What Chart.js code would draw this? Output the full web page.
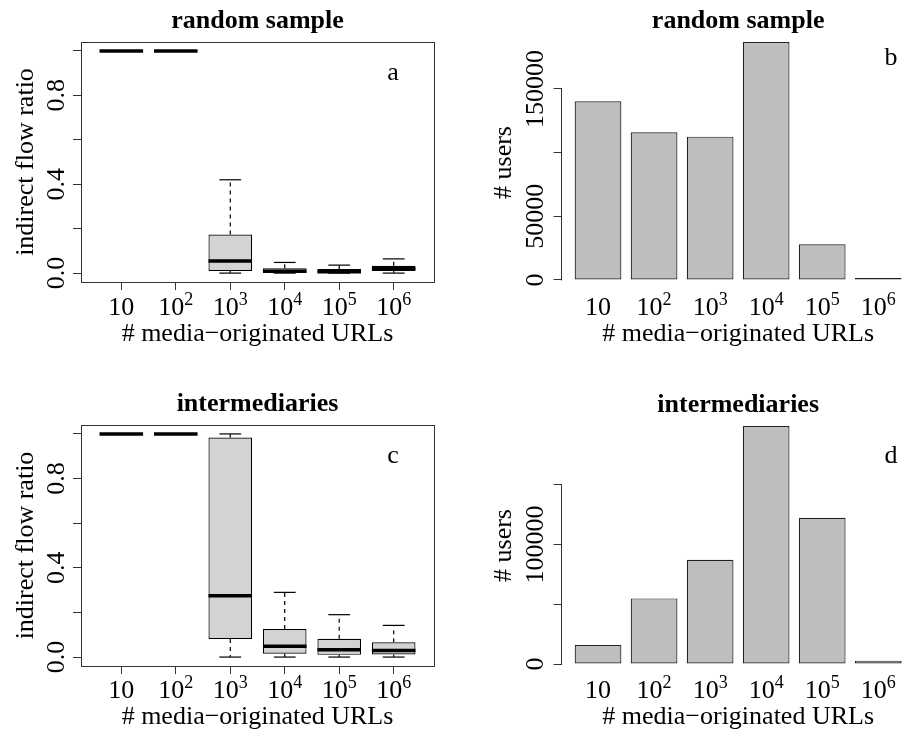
<!DOCTYPE html>
<html>
<head>
<meta charset="utf-8">
<title>Indirect flow ratio and users by media-originated URLs</title>
<script src="https://cdn.jsdelivr.net/npm/chart.js@4.4.1/dist/chart.umd.min.js"></script>
<style>
  html, body { margin: 0; padding: 0; background: #fff; }
  body { position: relative; width: 902px; height: 734px; overflow: hidden; }
  canvas { position: absolute; }
</style>
</head>
<body>
<canvas id="panelA" width="451" height="367" style="left:0;top:0"></canvas>
<canvas id="panelB" width="480" height="367" style="left:451px;top:0"></canvas>
<canvas id="panelC" width="451" height="367" style="left:0;top:367px"></canvas>
<canvas id="panelD" width="480" height="367" style="left:451px;top:367px"></canvas>
<script>
// size classes 10, 10^2 ... 10^6 (exponent shown after the "10")
const sizeExponents = ["", "2", "3", "4", "5", "6"];

// indirect flow ratio, random sample: whisker ends, quartiles, median
const randomLow = [1, 1, 0, 0, 0, 0];
const randomQ1 = [1, 1, 0.010, 0.0, 0.0, 0.009];
const randomMedian = [1, 1, 0.054, 0.008, 0.006, 0.020];
const randomQ3 = [1, 1, 0.174, 0.022, 0.018, 0.033];
const randomHigh = [1, 1, 0.42, 0.048, 0.036, 0.064];

// indirect flow ratio, intermediaries
const interLow = [1, 1, 0, 0, 0, 0];
const interQ1 = [1, 1, 0.081, 0.015, 0.010, 0.012];
const interMedian = [1, 1, 0.275, 0.048, 0.033, 0.030];
const interQ3 = [1, 1, 0.984, 0.126, 0.082, 0.066];
const interHigh = [1, 1, 1.0, 0.29, 0.19, 0.142];

// number of users per size class
const randomUsers = [140300, 115900, 112500, 186800, 28000, 1600];
const interUsers = [15900, 54900, 87200, 199000, 122300, 2800];

// axis ticks; empty strings are ticks drawn without a label
const ratioTicks = [0, 0.2, 0.4, 0.6, 0.8, 1.0];
const ratioLabels = ["0.0", "", "0.4", "", "0.8", ""];
const userTicks = [0, 50000, 100000, 150000];
const randomUserLabels = ["0", "50000", "", "150000"];
const interUserLabels = ["0", "", "100000", ""];

// slot positions along x: boxplot groups at 1..6, bars at 0.7 + 1.2 * i
const boxSlots = [1, 2, 3, 4, 5, 6];
const barSlots = [0.7, 1.9, 3.1, 4.3, 5.5, 6.7];

const FONT = '"Liberation Serif", "Times New Roman", serif';
const INK = '#000';
const LINE = '#333';

const seg = (ctx, x1, y1, x2, y2) => {
  ctx.beginPath();
  ctx.moveTo(x1, y1);
  ctx.lineTo(x2, y2);
  ctx.stroke();
};

// whiskers, caps and median bar on top of the floating-bar boxes
const boxParts = {
  id: 'boxParts',
  afterDatasetsDraw(chart, args, o) {
    if (!o.stats) return;
    const { ctx } = chart;
    const ys = chart.scales.y;
    const s = o.stats;
    ctx.save();
    ctx.strokeStyle = INK;
    chart.getDatasetMeta(0).data.forEach((bar, i) => {
      const x = bar.x, half = bar.width / 2, cap = bar.width / 4;
      const yLo = ys.getPixelForValue(s.low[i]);
      const yQ1 = ys.getPixelForValue(s.q1[i]);
      const yMed = ys.getPixelForValue(s.median[i]);
      const yQ3 = ys.getPixelForValue(s.q3[i]);
      const yHi = ys.getPixelForValue(s.high[i]);
      ctx.lineWidth = 1.2;
      ctx.setLineDash([4, 4]);
      if (yHi < yQ3) seg(ctx, x, yQ3, x, yHi);
      if (yLo > yQ1) seg(ctx, x, yQ1, x, yLo);
      ctx.setLineDash([]);
      seg(ctx, x - cap, yHi, x + cap, yHi);
      seg(ctx, x - cap, yLo, x + cap, yLo);
      ctx.lineWidth = 3.5;
      seg(ctx, x - half, yMed, x + half, yMed);
    });
    ctx.restore();
  }
};

// full frame for the boxplots, short axis line for the bar charts
const frame = {
  id: 'frame',
  afterDraw(chart, args, o) {
    const { ctx, chartArea: a } = chart;
    ctx.save();
    ctx.strokeStyle = LINE;
    ctx.lineWidth = 1;
    if (o.box) {
      const l = Math.round(a.left) + 0.5, t = Math.round(a.top) + 0.5;
      ctx.strokeRect(l, t, Math.round(a.right) - Math.round(a.left), Math.round(a.bottom) - Math.round(a.top));
    } else if (o.axisTicks) {
      const ys = chart.scales.y;
      const x = Math.round(a.left) - 0.5;
      seg(ctx, x, ys.getPixelForValue(o.axisTicks[0]) + 0.5, x,
        ys.getPixelForValue(o.axisTicks[o.axisTicks.length - 1]));
    }
    ctx.restore();
  }
};

// titles, panel letter, tick labels ("10" with raised exponent) and axis titles
const panelText = {
  id: 'panelText',
  afterDraw(chart, args, o) {
    const { ctx, chartArea: a } = chart;
    const xs = chart.scales.x, ys = chart.scales.y;
    const midX = (a.left + a.right) / 2;
    const mainFont = `${o.tickSize}px ${FONT}`;
    const supFont = `${Math.round(o.tickSize * 0.7)}px ${FONT}`;
    ctx.save();
    ctx.fillStyle = INK;
    ctx.textBaseline = 'alphabetic';

    ctx.textAlign = 'center';
    ctx.font = `bold ${o.titleSize}px ${FONT}`;
    ctx.fillText(o.title, midX, o.titleY);

    ctx.font = `${o.textSize}px ${FONT}`;
    ctx.fillText(o.letter, o.letterX, o.letterY);
    ctx.fillText(o.xTitle, midX, o.xTitleY);

    ctx.textAlign = 'left';
    o.xSlots.forEach((slot, i) => {
      const exp = sizeExponents[i];
      ctx.font = mainFont;
      const wBase = ctx.measureText('10').width;
      ctx.font = supFont;
      const wExp = exp ? ctx.measureText(exp).width : 0;
      const x0 = xs.getPixelForValue(slot) - (wBase + wExp) / 2;
      ctx.font = mainFont;
      ctx.fillText('10', x0, o.xTickY);
      if (exp) {
        ctx.font = supFont;
        ctx.fillText(exp, x0 + wBase, o.xTickY - o.tickSize * 0.4);
      }
    });

    ctx.textAlign = 'center';
    ctx.font = mainFont;
    o.yTicks.forEach((v, i) => {
      const lab = o.yLabels[i];
      if (!lab) return;
      ctx.save();
      ctx.translate(a.left - o.yTickGap, ys.getPixelForValue(v));
      ctx.rotate(-Math.PI / 2);
      ctx.fillText(lab, 0, 0);
      ctx.restore();
    });

    ctx.font = `${o.textSize}px ${FONT}`;
    ctx.save();
    ctx.translate(a.left - o.yTitleGap, o.yTitleMid != null ? o.yTitleMid : (a.top + a.bottom) / 2);
    ctx.rotate(-Math.PI / 2);
    ctx.fillText(o.yTitle, 0, 0);
    ctx.restore();
    ctx.restore();
  }
};

const tickGrid = { drawOnChartArea: false, drawTicks: true, tickLength: 8, color: LINE, lineWidth: 1, offset: false };

function baseOptions(pad, text, extra) {
  return {
    responsive: false,
    animation: false,
    events: [],
    devicePixelRatio: 1,
    layout: { padding: pad },
    plugins: Object.assign({
      legend: { display: false },
      tooltip: { enabled: false },
      panelText: text
    }, extra)
  };
}

function boxPanel(id, stats, pad, text) {
  const options = baseOptions(pad, Object.assign({
    xSlots: boxSlots, yTicks: ratioTicks, yLabels: ratioLabels,
    yTitle: 'indirect flow ratio', xTitle: '# media\u2212originated URLs',
    titleSize: 26, textSize: 26, tickSize: 26, yTickGap: 17.5, yTitleGap: 47.7
  }, text), { boxParts: { stats }, frame: { box: true } });
  options.scales = {
    x: {
      type: 'linear', min: 0.26, max: 6.74, offset: false,
      grid: tickGrid, border: { display: false }, ticks: { display: false },
      afterBuildTicks: sc => { sc.ticks = boxSlots.map(v => ({ value: v })); },
      afterFit: sc => { sc.height = 0; }
    },
    y: {
      min: -0.04, max: 1.04,
      grid: tickGrid, border: { display: false }, ticks: { display: false },
      afterBuildTicks: sc => { sc.ticks = ratioTicks.map(v => ({ value: v })); },
      afterFit: sc => { sc.width = 0; }
    }
  };
  return new Chart(document.getElementById(id), {
    type: 'bar',
    data: {
      datasets: [{
        data: boxSlots.map((x, i) => ({ x, y: [stats.q1[i], stats.q3[i]] })),
        backgroundColor: '#d3d3d3',
        borderColor: INK,
        borderWidth: 1.2,
        borderSkipped: false,
        categoryPercentage: 1,
        barPercentage: 0.8
      }]
    },
    options,
    plugins: [boxParts, frame, panelText]
  });
}

function barPanel(id, users, yMin, yMax, labels, pad, text) {
  const options = baseOptions(pad, Object.assign({
    xSlots: barSlots, yTicks: userTicks, yLabels: labels,
    yTitle: '# users', xTitle: '# media\u2212originated URLs',
    titleSize: 26, textSize: 26, tickSize: 26, yTickGap: 18.9, yTitleGap: 50.6
  }, text), { frame: { axisTicks: userTicks } });
  options.scales = {
    x: {
      type: 'linear', min: -0.08, max: 7.48, offset: false, display: false,
      grid: { offset: false }
    },
    y: {
      min: yMin, max: yMax,
      grid: tickGrid, border: { display: false }, ticks: { display: false },
      afterBuildTicks: sc => { sc.ticks = userTicks.map(v => ({ value: v })); },
      afterFit: sc => { sc.width = 0; }
    }
  };
  return new Chart(document.getElementById(id), {
    type: 'bar',
    data: {
      datasets: [{
        data: barSlots.map((x, i) => ({ x, y: users[i] })),
        backgroundColor: '#bebebe',
        borderColor: '#222',
        borderWidth: 1.2,
        borderSkipped: false,
        categoryPercentage: 1,
        barPercentage: 1 / 1.2
      }]
    },
    options,
    plugins: [frame, panelText]
  });
}

boxPanel('panelA',
  { low: randomLow, q1: randomQ1, median: randomMedian, q3: randomQ3, high: randomHigh },
  { left: 81, right: 17, top: 42, bottom: 85 },
  { title: 'random sample', letter: 'a', letterX: 393, letterY: 79.5, titleY: 27.5, xTickY: 315, xTitleY: 341 });

barPanel('panelB', randomUsers, -7500, 195000, randomUserLabels,
  { left: 110.6, right: 16.3, top: 31.57, bottom: 77.45 },
  { title: 'random sample', letter: 'b', letterX: 440, letterY: 65, titleY: 27.5, xTickY: 315, xTitleY: 341, yTitleMid: 162.5 });

boxPanel('panelC',
  { low: interLow, q1: interQ1, median: interMedian, q3: interQ3, high: interHigh },
  { left: 81, right: 17, top: 58, bottom: 68 },
  { title: 'intermediaries', letter: 'c', letterX: 393, letterY: 96, titleY: 43.5, xTickY: 331, xTitleY: 357 });

barPanel('panelD', interUsers, -7500, 210000, interUserLabels,
  { left: 110.6, right: 16.3, top: 45.97, bottom: 61.03 },
  { title: 'intermediaries', letter: 'd', letterX: 440, letterY: 96, titleY: 44.5, xTickY: 331, xTitleY: 357, yTitleMid: 178.5 });
</script>
</body>
</html>
